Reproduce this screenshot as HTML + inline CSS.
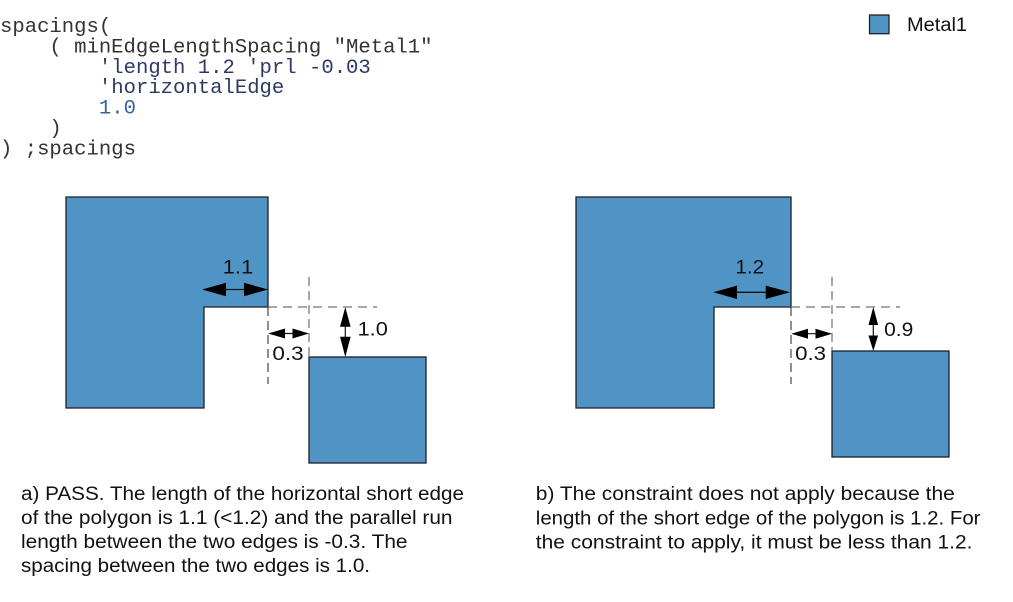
<!DOCTYPE html>
<html>
<head>
<meta charset="utf-8">
<style>
  html, body { margin: 0; padding: 0; background: #ffffff; }
  svg { display: block; }
  .code { font-family: "Liberation Mono", "Courier New", monospace; font-size: 20.6px; }
  .sans { font-family: "Liberation Sans", Arial, sans-serif; }
</style>
</head>
<body>
<svg width="1013" height="602" viewBox="0 0 1013 602" xmlns="http://www.w3.org/2000/svg">
  <rect x="0" y="0" width="1013" height="602" fill="#ffffff"/>

  <!-- Code block -->
  <g class="code" fill="#333333">
    <text x="0" y="32">spacings(</text>
    <text x="49.4" y="52.4">( minEdgeLengthSpacing "Metal1"</text>
    <text x="98.9" y="72.8" fill="#2e3a66">'length 1.2 'prl -0.03</text>
    <text x="98.9" y="93.2" fill="#2e3a66">'horizontalEdge</text>
    <text x="98.9" y="113.6" fill="#3563a0">1.0</text>
    <text x="49.4" y="134">)</text>
    <text x="0" y="154.4">) ;spacings</text>
  </g>

  <!-- Legend -->
  <rect x="869.5" y="15" width="19.5" height="18.7" fill="#4f94c4" stroke="#222" stroke-width="1.3"/>
  <text class="sans" x="907" y="31" font-size="19" textLength="60" lengthAdjust="spacingAndGlyphs" fill="#111">Metal1</text>

  <!-- ===== Left diagram ===== -->
  <polygon points="66,197 268,197 268,307 204,307 204,408 66,408" fill="#4f94c4" stroke="#1a1f2a" stroke-width="1.3"/>
  <rect x="309" y="357" width="117" height="106" fill="#4f94c4" stroke="#1a1f2a" stroke-width="1.3"/>

  <!-- dashed guides -->
  <line x1="268" y1="307" x2="377" y2="307" stroke="#8a8a8a" stroke-width="1.6" stroke-dasharray="9 6"/>
  <line x1="309" y1="277" x2="309" y2="357" stroke="#7a7a7a" stroke-width="1.3" stroke-dasharray="9 5"/>
  <line x1="268" y1="307" x2="268" y2="384" stroke="#222" stroke-width="1" stroke-dasharray="9 5"/>

  <!-- arrow 1.1 -->
  <line x1="210" y1="289.5" x2="260" y2="289.5" stroke="#111" stroke-width="1.3"/>
  <polygon points="202,289.5 226,282.8 226,296.2" fill="#000"/>
  <polygon points="268,289.5 244,282.8 244,296.2" fill="#000"/>
  <text class="sans" x="222.6" y="273.3" font-size="19" textLength="30.6" lengthAdjust="spacingAndGlyphs" fill="#111">1.1</text>

  <!-- arrow 0.3 -->
  <line x1="270" y1="333.5" x2="307" y2="333.5" stroke="#111" stroke-width="1.2"/>
  <polygon points="268.3,333.5 285,328.5 285,338.5" fill="#000"/>
  <polygon points="309,333.5 292.5,328.5 292.5,338.5" fill="#000"/>
  <text class="sans" x="272.4" y="360" font-size="19" textLength="31.3" lengthAdjust="spacingAndGlyphs" fill="#111">0.3</text>

  <!-- arrow 1.0 -->
  <line x1="345.3" y1="310" x2="345.3" y2="354" stroke="#111" stroke-width="1.2"/>
  <polygon points="345.3,307 340,326.7 350.6,326.7" fill="#000"/>
  <polygon points="345.3,357 340,336.7 350.6,336.7" fill="#000"/>
  <text class="sans" x="357.6" y="335.5" font-size="19" textLength="30.2" lengthAdjust="spacingAndGlyphs" fill="#111">1.0</text>

  <!-- ===== Right diagram ===== -->
  <polygon points="576,197 791,197 791,307 714,307 714,408 576,408" fill="#4f94c4" stroke="#1a1f2a" stroke-width="1.3"/>
  <rect x="832" y="351" width="117" height="106" fill="#4f94c4" stroke="#1a1f2a" stroke-width="1.3"/>

  <line x1="791" y1="307" x2="900" y2="307" stroke="#8a8a8a" stroke-width="1.6" stroke-dasharray="9 6"/>
  <line x1="832" y1="277" x2="832" y2="351" stroke="#7a7a7a" stroke-width="1.3" stroke-dasharray="9 5"/>
  <line x1="791" y1="307" x2="791" y2="384" stroke="#222" stroke-width="1" stroke-dasharray="9 5"/>

  <!-- arrow 1.2 -->
  <line x1="720" y1="292.3" x2="783" y2="292.3" stroke="#111" stroke-width="1.3"/>
  <polygon points="713.3,292.3 737,285.6 737,299" fill="#000"/>
  <polygon points="790,292.3 765.7,285.6 765.7,299" fill="#000"/>
  <text class="sans" x="735.4" y="273.3" font-size="19" textLength="28.8" lengthAdjust="spacingAndGlyphs" fill="#111">1.2</text>

  <!-- arrow 0.3 -->
  <line x1="793" y1="333.7" x2="830" y2="333.7" stroke="#111" stroke-width="1.2"/>
  <polygon points="791.3,333.7 808,328.7 808,338.7" fill="#000"/>
  <polygon points="832,333.7 815.5,328.7 815.5,338.7" fill="#000"/>
  <text class="sans" x="795.1" y="360" font-size="19" textLength="31" lengthAdjust="spacingAndGlyphs" fill="#111">0.3</text>

  <!-- arrow 0.9 -->
  <line x1="873.3" y1="310" x2="873.3" y2="348" stroke="#111" stroke-width="1.2"/>
  <polygon points="873.3,307 868.5,325 878.1,325" fill="#000"/>
  <polygon points="873.3,351 868.5,335.5 878.1,335.5" fill="#000"/>
  <text class="sans" x="884.1" y="336" font-size="19" textLength="29.2" lengthAdjust="spacingAndGlyphs" fill="#111">0.9</text>

  <!-- Captions -->
  <g class="sans" font-size="19" fill="#111">
    <text x="21" y="500" textLength="443" lengthAdjust="spacingAndGlyphs">a) PASS. The length of the horizontal short edge</text>
    <text x="21" y="524" textLength="431.5" lengthAdjust="spacingAndGlyphs">of the polygon is 1.1 (&lt;1.2) and the parallel run</text>
    <text x="21" y="548" textLength="386.5" lengthAdjust="spacingAndGlyphs">length between the two edges is -0.3. The</text>
    <text x="21" y="572" textLength="349" lengthAdjust="spacingAndGlyphs">spacing between the two edges is 1.0.</text>

    <text x="535.8" y="500" textLength="419" lengthAdjust="spacingAndGlyphs">b) The constraint does not apply because the</text>
    <text x="535.8" y="524.5" textLength="444.7" lengthAdjust="spacingAndGlyphs">length of the short edge of the polygon is 1.2. For</text>
    <text x="535.8" y="548.5" textLength="436.7" lengthAdjust="spacingAndGlyphs">the constraint to apply, it must be less than 1.2.</text>
  </g>
</svg>
</body>
</html>
